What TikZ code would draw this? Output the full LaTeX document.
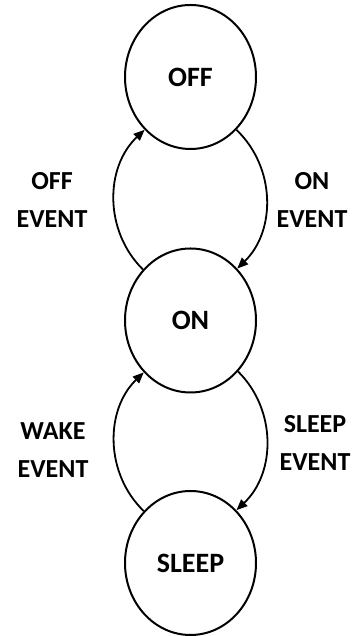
\documentclass[tikz,border=0pt]{standalone}
\usepackage{fontspec}
\setmainfont{Carlito}
\usetikzlibrary{shapes.geometric,arrows.meta}
\begin{document}
\begin{tikzpicture}[x=1pt,y=1pt,
  state/.style={ellipse,draw,line width=2pt,minimum width=131pt,minimum height=144pt,inner sep=0pt,font=\fontsize{28}{30}\selectfont\bfseries},
  lbl/.style={align=center,font=\fontsize{26}{38}\selectfont\bfseries,inner sep=0pt},
  trans/.style={line width=1.8pt,-{Triangle[length=11pt,width=9pt]},bend left=46}]
\useasboundingbox[fill=white] (0,0) rectangle (356,636);
\node[state] (off) at (190.5,559) {OFF};
\node[state] (on) at (190.5,315.5) {ON};
\node[state] (sleep) at (190.5,73) {SLEEP};
\draw[trans] (off.-49) to (on.48);
\draw[trans] (on.133) to (off.-131);
\draw[trans] (on.-47) to (sleep.49);
\draw[trans] (sleep.132) to (on.-132);
\node[lbl] (offev) at (52,436) {OFF\\EVENT};
\node[lbl] (onev) at (312,436) {ON\\EVENT};
\node[lbl] (wakeev) at (53,185.5) {WAKE\\EVENT};
\node[lbl] (sleepev) at (315,193) {SLEEP\\EVENT};
\end{tikzpicture}
\end{document}
